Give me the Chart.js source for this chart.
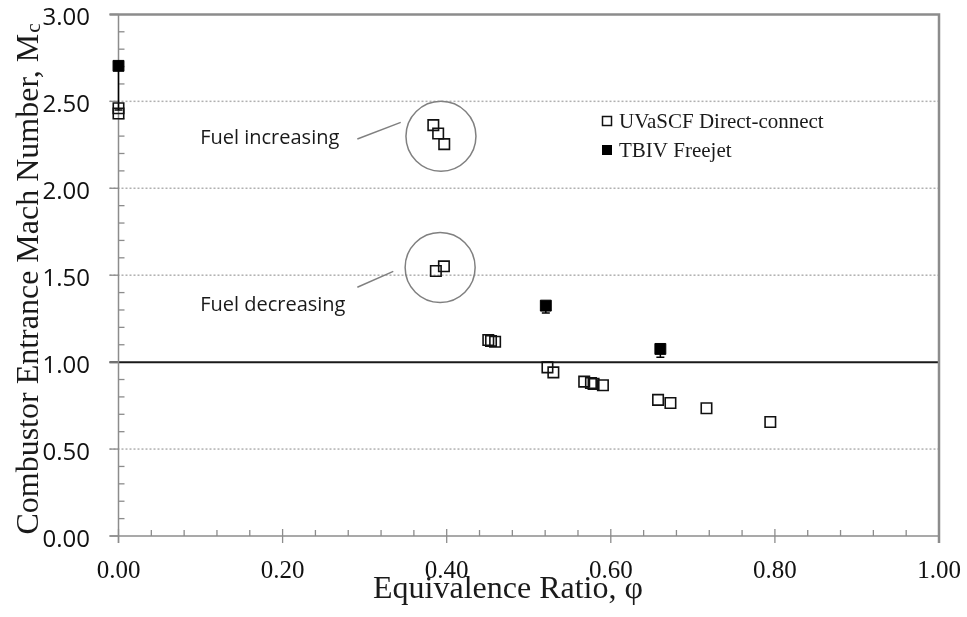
<!DOCTYPE html>
<html><head><meta charset="utf-8">
<script src="https://cdn.jsdelivr.net/npm/chart.js@4.4.0/dist/chart.umd.min.js"></script>
<style>html,body{margin:0;padding:0;background:#fff;}#wrap{width:967px;height:617px;}</style>
</head><body><div id="wrap"><canvas id="c" width="967" height="617"></canvas></div>
<script>
// ---- data ----
const seriesNames = ['UVaSCF Direct-connect', 'TBIV Freejet'];
const uvaX = [0, 0, 0.3837, 0.3896, 0.397, 0.3868, 0.3966, 0.4507, 0.454, 0.459, 0.5228, 0.530, 0.5676, 0.5758, 0.579, 0.5904, 0.6576, 0.6727, 0.7166, 0.7944];
const uvaY = [2.46, 2.43, 2.363, 2.315, 2.254, 1.524, 1.551, 1.127, 1.122, 1.117, 0.970, 0.941, 0.888, 0.880, 0.875, 0.867, 0.783, 0.765, 0.735, 0.656];
const tbivX = [0, 0.5208, 0.6604];
const tbivY = [2.704, 1.325, 1.076];
const tbivLow = [2.45, 1.283, 1.028];
const xTickValues = [0, 0.2, 0.4, 0.6, 0.8, 1.0];
const yTickValues = [0, 0.5, 1.0, 1.5, 2.0, 2.5, 3.0];
const sonicLine = 1.0;
const noteText = ['Fuel increasing', 'Fuel decreasing'];
const noteTextX = [0.0995, 0.0995];
const noteTextY = [2.285, 1.325];
const noteCircleX = [0.393, 0.392];
const noteCircleY = [2.299, 1.544];
const leaderFromX = [0.2911, 0.2911];
const leaderFromY = [2.283, 1.431];
const leaderToX = [0.344, 0.3349];
const leaderToY = [2.379, 1.522];
const xTitle = 'Equivalence Ratio, \u03C6';
const yTitle = 'Combustor Entrance Mach Number, M';
const yTitleSub = 'c';

const deco = {
  id: 'deco',
  beforeDatasetsDraw(chart) {
    const {ctx, chartArea: a, scales: {x, y}} = chart;
    ctx.save();
    // dotted gridlines
    ctx.setLineDash([2, 2]);
    ctx.strokeStyle = '#b0b0b0';
    ctx.lineWidth = 1.5;
    yTickValues.forEach(v => {
      if (v === 0 || v === 3 || v === sonicLine) return;
      const py = y.getPixelForValue(v);
      ctx.beginPath(); ctx.moveTo(a.left - 9, py); ctx.lineTo(a.right, py); ctx.stroke();
    });
    ctx.setLineDash([]);
    // sonic line
    const ps = y.getPixelForValue(sonicLine);
    ctx.strokeStyle = '#1a1a1a'; ctx.lineWidth = 2;
    ctx.beginPath(); ctx.moveTo(a.left - 9, ps); ctx.lineTo(a.right, ps); ctx.stroke();
    // axes and borders
    ctx.strokeStyle = '#8c8c8c';
    ctx.lineWidth = 1.5;
    ctx.beginPath(); ctx.moveTo(a.left, a.top); ctx.lineTo(a.left, a.bottom + 7); ctx.stroke();
    ctx.beginPath(); ctx.moveTo(a.left - 9, a.bottom); ctx.lineTo(a.right, a.bottom); ctx.stroke();
    ctx.lineWidth = 2.5;
    ctx.beginPath(); ctx.moveTo(a.left - 9, a.top); ctx.lineTo(a.right, a.top); ctx.lineTo(a.right, a.bottom + 7); ctx.stroke();
    // ticks
    ctx.lineWidth = 1.3;
    yTickValues.forEach(v => {
      const py = y.getPixelForValue(v);
      ctx.beginPath(); ctx.moveTo(a.left - 9, py); ctx.lineTo(a.left, py); ctx.stroke();
    });
    for (let k = 1; k < 30; k++) {
      if (k % 5 === 0) continue;
      const py = y.getPixelForValue(k / 10);
      ctx.beginPath(); ctx.moveTo(a.left, py); ctx.lineTo(a.left + 6, py); ctx.stroke();
    }
    xTickValues.forEach(v => {
      const px = x.getPixelForValue(v);
      ctx.beginPath(); ctx.moveTo(px, a.bottom - 7); ctx.lineTo(px, a.bottom + 7); ctx.stroke();
    });
    for (let k = 1; k < 25; k++) {
      if (k % 5 === 0) continue;
      const px = x.getPixelForValue(k * 0.04);
      ctx.beginPath(); ctx.moveTo(px, a.bottom - 6); ctx.lineTo(px, a.bottom); ctx.stroke();
    }
    // annotations
    ctx.strokeStyle = '#808080'; ctx.lineWidth = 1.5;
    noteCircleX.forEach((cx, i) => {
      ctx.beginPath();
      ctx.arc(x.getPixelForValue(cx), y.getPixelForValue(noteCircleY[i]), 35, 0, Math.PI * 2);
      ctx.stroke();
      ctx.beginPath();
      ctx.moveTo(x.getPixelForValue(leaderFromX[i]), y.getPixelForValue(leaderFromY[i]));
      ctx.lineTo(x.getPixelForValue(leaderToX[i]), y.getPixelForValue(leaderToY[i]));
      ctx.stroke();
    });
    ctx.fillStyle = '#1a1a1a';
    ctx.font = '20px "Open Sans"';
    ctx.textAlign = 'left'; ctx.textBaseline = 'middle';
    noteText.forEach((t, i) => {
      ctx.fillText(t, x.getPixelForValue(noteTextX[i]), y.getPixelForValue(noteTextY[i]));
    });
    // error bars
    ctx.strokeStyle = '#000'; ctx.lineWidth = 1.5;
    tbivX.forEach((v, i) => {
      const px = x.getPixelForValue(v);
      const p1 = y.getPixelForValue(tbivY[i]);
      const p2 = y.getPixelForValue(tbivLow[i]);
      ctx.beginPath(); ctx.moveTo(px, p1); ctx.lineTo(px, p2);
      ctx.moveTo(px - 4, p2); ctx.lineTo(px + 4, p2); ctx.stroke();
    });
    ctx.restore();
  },
  afterDraw(chart) {
    const {ctx} = chart;
    ctx.save();
    // legend
    const lx = 607, ly = [121, 150];
    ctx.lineWidth = 1.5; ctx.strokeStyle = '#111';
    ctx.strokeRect(lx - 4.5, ly[0] - 4.5, 9, 9);
    ctx.fillStyle = '#000';
    ctx.fillRect(lx - 5, ly[1] - 5, 10, 10);
    ctx.font = '21px "Liberation Serif"';
    ctx.fillStyle = '#1a1a1a';
    ctx.textAlign = 'left'; ctx.textBaseline = 'middle';
    seriesNames.forEach((n, i) => ctx.fillText(n, 619, ly[i] + 1.5));
    // x title
    ctx.font = '32px "Liberation Serif"';
    ctx.textAlign = 'center'; ctx.textBaseline = 'alphabetic';
    ctx.fillText(xTitle, 508, 598);
    // y title
    ctx.translate(38, 279.5);
    ctx.rotate(-Math.PI / 2);
    ctx.font = '32px "Liberation Serif"';
    const w = ctx.measureText(yTitle).width;
    ctx.font = '21px "Liberation Serif"';
    const ws = ctx.measureText(yTitleSub).width;
    const start = -(w + ws) / 2;
    ctx.textAlign = 'left';
    ctx.font = '32px "Liberation Serif"';
    ctx.fillText(yTitle, start, 0);
    ctx.font = '21px "Liberation Serif"';
    ctx.fillText(yTitleSub, start + w + 1, 2);
    ctx.restore();
  }
};

new Chart(document.getElementById('c'), {
  type: 'scatter',
  data: {
    datasets: [
      {
        label: seriesNames[0],
        data: uvaX.map((v, i) => ({x: v, y: uvaY[i]})),
        pointStyle: 'rect', pointRadius: 7.4, pointHoverRadius: 7.4,
        borderWidth: 1.6, borderColor: '#111', backgroundColor: 'rgba(0,0,0,0)',
        clip: false, order: 2
      },
      {
        label: seriesNames[1],
        data: tbivX.map((v, i) => ({x: v, y: tbivY[i]})),
        pointStyle: 'rect', pointRadius: 7.7, pointHoverRadius: 7.7,
        borderWidth: 1, borderColor: '#000', backgroundColor: '#000',
        clip: false, order: 1
      }
    ]
  },
  options: {
    responsive: false, animation: false, devicePixelRatio: 1, events: [],
    layout: {padding: {top: 14, right: 28, left: 0, bottom: 0}},
    plugins: {legend: {display: false}, tooltip: {enabled: false}},
    scales: {
      x: {
        type: 'linear', min: 0, max: 1,
        grid: {display: true, drawOnChartArea: false, drawTicks: true, tickLength: 20, tickColor: 'rgba(0,0,0,0)', color: 'rgba(0,0,0,0)'},
        border: {display: false},
        ticks: {stepSize: 0.2, padding: 0, color: '#111', maxRotation: 0, autoSkip: false,
          font: {family: 'Liberation Serif', size: 25}, callback: v => Number(v).toFixed(2)},
        afterFit: s => { s.height = 81; }
      },
      y: {
        type: 'linear', min: 0, max: 3,
        grid: {display: true, drawOnChartArea: false, drawTicks: true, tickLength: 28.5, tickColor: 'rgba(0,0,0,0)', color: 'rgba(0,0,0,0)'},
        border: {display: false},
        ticks: {stepSize: 0.5, padding: 0, labelOffset: 4, color: '#111',
          font: {family: 'Open Sans', size: 24}, callback: v => Number(v).toFixed(2)},
        afterFit: s => { s.width = 118.5; }
      }
    }
  },
  plugins: [deco]
});
</script></body></html>
